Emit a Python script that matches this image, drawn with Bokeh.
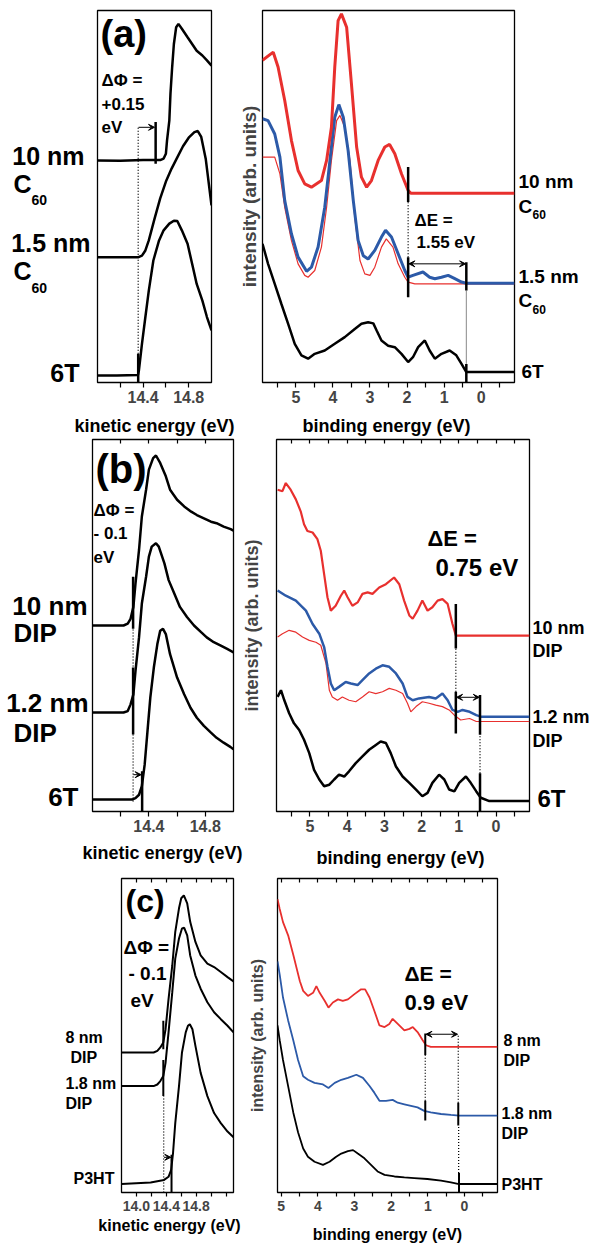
from bokeh.plotting import figure
from bokeh.models import Range1d, Label, Arrow, VeeHead, LinearAxis, FixedTicker, NumeralTickFormatter
from bokeh.layouts import row, column
from bokeh.embed import file_html
from bokeh.resources import INLINE

FONT = "Liberation Sans"
RED = "#e8302e"
BLUE = "#2c5aa8"

# ---------------- panel (a) : secondary electron cutoff (kinetic energy, eV) ----------------
a_ke_10 = [14.00, 14.20, 14.40, 14.55, 14.58, 14.60, 14.61, 14.63, 14.64, 14.655, 14.67, 14.69, 14.71, 14.74, 14.79, 14.83, 14.87, 14.92, 14.96, 15.00]
a_ki_10 = [59.7, 59.6, 59.8, 59.8, 60.2, 61.5, 65.1, 70.4, 77.6, 84.8, 91.0, 95.5, 96.4, 95.1, 92.8, 91.0, 89.2, 87.9, 86.6, 85.2]
a_ke_15 = [14.00, 14.17, 14.36, 14.39, 14.42, 14.45, 14.50, 14.55, 14.60, 14.65, 14.70, 14.75, 14.80, 14.85, 14.88, 14.91, 14.95, 15.00]
a_ki_15 = [33.7, 33.7, 33.7, 34.1, 35.5, 38.2, 44.0, 49.5, 54.0, 57.5, 60.5, 63.5, 65.8, 67.3, 67.6, 66.0, 60.0, 47.6]
a_ke_6t = [14.00, 14.17, 14.355, 14.363, 14.39, 14.42, 14.45, 14.49, 14.54, 14.58, 14.63, 14.67, 14.70, 14.74, 14.79, 14.83, 14.87, 14.92, 14.96, 15.00]
a_ki_6t = [1.9, 1.9, 2.0, 3.2, 10.4, 17.6, 24.7, 32.8, 38.2, 40.9, 42.7, 43.5, 43.4, 40.9, 37.3, 31.9, 26.5, 22.0, 17.6, 14.0]

# ---------------- panel (a) : valence band (binding energy, eV) ----------------
a_be_10 = [5.90, 5.61, 5.48, 5.30, 5.12, 4.94, 4.76, 4.58, 4.31, 4.17, 4.04, 3.95, 3.86, 3.77, 3.63, 3.50, 3.36, 3.23, 3.09, 2.96, 2.78, 2.60, 2.47, 2.33, 2.15, 1.97, 1.90, -0.90]
a_bi_10 = [86.6, 88.8, 84.8, 75.8, 65.1, 57.0, 53.4, 52.5, 54.3, 59.7, 68.6, 84.8, 97.3, 99.1, 95.5, 80.3, 63.3, 55.2, 52.5, 54.3, 59.7, 63.3, 64.0, 61.5, 56.1, 51.6, 50.9, 50.9]
a_be_15 = [5.90, 5.75, 5.57, 5.43, 5.30, 5.12, 4.94, 4.71, 4.58, 4.40, 4.22, 4.08, 3.95, 3.84, 3.72, 3.59, 3.45, 3.32, 3.18, 3.05, 2.87, 2.69, 2.58, 2.42, 2.24, 2.06, 1.97, 1.84, 1.57, 1.39, 1.25, 1.07, 0.89, 0.71, 0.53, 0.40, -0.90]
a_bi_15 = [70.9, 70.4, 66.8, 60.6, 48.9, 40.0, 33.7, 29.9, 31.0, 36.4, 47.1, 59.7, 71.3, 74.7, 71.3, 62.4, 48.9, 38.2, 34.1, 33.2, 35.5, 39.1, 40.9, 39.1, 34.6, 30.1, 28.3, 28.8, 29.7, 28.3, 27.9, 28.3, 28.8, 27.9, 27.0, 26.7, 26.7]
a_be_15r = [5.90, 5.57, 5.43, 5.30, 5.12, 4.94, 4.76, 4.67, 4.49, 4.31, 4.17, 4.04, 3.90, 3.81, 3.68, 3.54, 3.41, 3.27, 3.14, 3.00, 2.87, 2.69, 2.56, 2.38, 2.24, 2.06, 1.97, 1.79, -0.90]
a_bi_15r = [60.6, 60.6, 56.1, 47.1, 38.2, 31.9, 28.8, 28.3, 30.1, 36.4, 47.1, 59.7, 70.4, 71.8, 68.6, 59.7, 44.4, 32.8, 29.2, 28.8, 31.0, 36.4, 38.6, 36.4, 31.9, 28.3, 27.0, 26.5, 26.5]
a_be_6t = [5.90, 5.75, 5.57, 5.39, 5.21, 5.03, 4.85, 4.67, 4.49, 4.22, 3.95, 3.68, 3.41, 3.23, 3.05, 2.91, 2.82, 2.69, 2.51, 2.33, 2.15, 1.97, 1.84, 1.70, 1.52, 1.39, 1.25, 1.07, 0.85, 0.67, 0.53, 0.40, -0.90]
a_bi_6t = [37.3, 31.9, 26.5, 21.1, 15.8, 10.4, 7.3, 6.4, 7.7, 8.6, 10.4, 12.2, 14.4, 15.8, 16.2, 15.9, 14.0, 11.3, 9.9, 9.5, 7.7, 5.5, 6.8, 9.5, 11.3, 8.6, 6.4, 7.7, 8.6, 7.3, 5.0, 2.8, 2.8]

# ---------------- panel (b) : cutoff ----------------
b_ke_10 = [14.00, 14.22, 14.25, 14.27, 14.29, 14.305, 14.33, 14.35, 14.38, 14.40, 14.43, 14.45, 14.48, 14.52, 14.55, 14.60, 14.65, 14.70, 14.74, 14.79, 14.84, 14.88, 14.93, 14.98, 15.00]
b_ki_10 = [50.0, 50.0, 50.5, 51.8, 55.0, 61.3, 70.3, 79.3, 86.5, 91.9, 95.0, 95.7, 93.7, 90.1, 86.5, 83.8, 82.0, 80.6, 79.7, 78.8, 77.9, 77.5, 76.6, 75.9, 75.5]
b_ke_12 = [14.00, 14.22, 14.25, 14.27, 14.29, 14.305, 14.33, 14.35, 14.38, 14.40, 14.42, 14.45, 14.47, 14.51, 14.54, 14.58, 14.62, 14.67, 14.72, 14.77, 14.81, 14.86, 14.91, 14.955, 15.00]
b_ki_12 = [26.6, 26.6, 27.0, 28.8, 31.5, 37.8, 46.8, 55.9, 63.1, 68.5, 71.2, 72.1, 71.2, 66.7, 62.2, 58.6, 55.0, 52.3, 50.0, 48.2, 46.8, 45.5, 44.6, 43.7, 42.8]
b_ke_6t = [14.00, 14.28, 14.305, 14.33, 14.35, 14.37, 14.39, 14.41, 14.435, 14.46, 14.48, 14.50, 14.52, 14.55, 14.60, 14.65, 14.695, 14.74, 14.79, 14.84, 14.88, 14.93, 14.98, 15.00]
b_ki_6t = [3.2, 3.2, 3.6, 4.5, 6.8, 12.6, 21.6, 30.6, 38.7, 45.0, 48.6, 49.1, 47.7, 42.3, 36.0, 31.5, 27.9, 25.2, 23.0, 21.2, 19.8, 18.5, 17.3, 16.7]

# ---------------- panel (b) : valence band ----------------
b_be_10 = [5.87, 5.74, 5.65, 5.52, 5.38, 5.25, 5.16, 5.07, 4.93, 4.80, 4.71, 4.62, 4.53, 4.44, 4.31, 4.17, 4.08, 3.99, 3.86, 3.72, 3.59, 3.45, 3.32, 3.14, 2.96, 2.74, 2.60, 2.47, 2.33, 2.24, 2.11, 1.98, 1.84, 1.71, 1.57, 1.44, 1.30, 1.17, 1.08, -0.90]
b_bi_10 = [86.5, 86.1, 88.3, 86.5, 83.9, 80.7, 77.2, 75.4, 75.0, 73.2, 70.1, 63.8, 57.6, 54.0, 55.3, 58.0, 59.4, 57.6, 55.3, 56.2, 58.5, 58.9, 58.5, 60.2, 61.1, 62.9, 61.1, 56.7, 52.7, 51.8, 54.0, 56.7, 54.0, 54.9, 56.7, 57.1, 55.8, 50.4, 47.3, 47.3]
b_be_12 = [5.87, 5.65, 5.38, 5.11, 4.93, 4.75, 4.62, 4.53, 4.44, 4.35, 4.22, 4.04, 3.90, 3.72, 3.59, 3.41, 3.23, 3.05, 2.87, 2.69, 2.51, 2.38, 2.24, 2.07, 1.80, 1.62, 1.44, 1.30, 1.17, 1.03, 0.90, 0.71, 0.53, 0.41, -0.90]
b_bi_12 = [59.4, 58.0, 56.7, 54.0, 50.4, 47.8, 44.2, 38.9, 34.4, 32.6, 33.5, 34.8, 34.4, 34.0, 35.3, 37.1, 38.4, 39.3, 38.9, 37.1, 34.4, 30.8, 29.9, 30.4, 30.8, 30.4, 31.7, 29.9, 27.3, 26.8, 27.3, 26.8, 25.9, 25.5, 25.5]
b_be_12r = [5.87, 5.74, 5.56, 5.38, 5.20, 5.02, 4.84, 4.71, 4.57, 4.48, 4.40, 4.26, 4.13, 3.95, 3.77, 3.59, 3.41, 3.23, 3.05, 2.87, 2.69, 2.51, 2.38, 2.29, 2.15, 1.98, 1.80, 1.62, 1.44, 1.26, 1.12, 0.95, 0.71, 0.53, -0.90]
b_bi_12r = [46.9, 47.8, 48.7, 48.2, 46.9, 46.0, 45.5, 44.7, 39.8, 32.6, 30.8, 29.9, 30.8, 29.9, 29.5, 30.8, 32.2, 31.7, 32.2, 33.1, 32.6, 31.7, 29.1, 26.8, 28.2, 29.5, 29.1, 28.6, 28.2, 27.3, 25.9, 24.6, 25.0, 24.2, 24.2]
b_be_6t = [5.87, 5.78, 5.69, 5.56, 5.43, 5.29, 5.16, 5.02, 4.89, 4.75, 4.62, 4.48, 4.35, 4.22, 4.08, 3.95, 3.77, 3.59, 3.41, 3.23, 3.10, 2.96, 2.83, 2.69, 2.51, 2.33, 2.15, 1.98, 1.84, 1.71, 1.53, 1.39, 1.26, 1.12, 0.99, 0.81, 0.68, 0.53, 0.41, 0.18, -0.90]
b_bi_6t = [30.8, 32.6, 29.9, 26.4, 23.7, 21.9, 19.3, 15.7, 11.2, 8.6, 6.8, 7.2, 8.6, 9.9, 9.4, 10.8, 13.0, 14.8, 16.6, 17.9, 18.8, 18.4, 15.7, 12.1, 9.4, 7.7, 5.9, 4.1, 5.0, 7.7, 9.9, 8.6, 5.9, 5.4, 7.7, 9.4, 7.7, 5.4, 3.7, 2.8, 2.8]

# ---------------- panel (c) : cutoff ----------------
c_ke_8 = [13.80, 14.23, 14.28, 14.32, 14.36, 14.39, 14.43, 14.48, 14.52, 14.57, 14.60, 14.635, 14.68, 14.72, 14.79, 14.86, 14.95, 15.04, 15.13, 15.22, 15.30]
c_ki_8 = [44.6, 44.6, 45.1, 46.2, 47.8, 52.0, 61.6, 72.3, 83.0, 90.5, 93.7, 94.6, 92.1, 86.2, 79.8, 75.5, 72.9, 71.8, 70.2, 68.6, 67.2]
c_ke_18 = [13.80, 14.23, 14.28, 14.32, 14.36, 14.39, 14.43, 14.48, 14.52, 14.57, 14.61, 14.64, 14.68, 14.72, 14.79, 14.86, 14.95, 15.04, 15.13, 15.22, 15.30]
c_ki_18 = [33.9, 33.9, 34.4, 35.5, 37.1, 41.3, 51.0, 63.8, 74.5, 80.9, 84.1, 84.3, 81.9, 75.5, 69.1, 64.9, 60.6, 57.4, 55.2, 53.1, 51.0]
c_ke_p3 = [13.80, 14.19, 14.37, 14.43, 14.465, 14.49, 14.52, 14.57, 14.61, 14.66, 14.69, 14.715, 14.75, 14.79, 14.86, 14.95, 15.04, 15.13, 15.22, 15.30]
c_ki_p3 = [2.7, 3.2, 4.0, 5.0, 7.2, 12.5, 22.1, 33.9, 44.6, 51.0, 53.1, 53.6, 52.0, 46.7, 38.1, 30.7, 25.3, 22.1, 19.4, 17.6]

# ---------------- panel (c) : valence band ----------------
c_be_8 = [5.10, 5.04, 4.95, 4.81, 4.67, 4.58, 4.49, 4.40, 4.27, 4.13, 4.04, 3.95, 3.81, 3.71, 3.59, 3.45, 3.32, 3.18, 3.01, 2.82, 2.71, 2.59, 2.46, 2.32, 2.18, 2.05, 1.96, 1.82, 1.64, 1.50, 1.41, 1.28, 1.14, 1.05, 0.92, -0.90]
c_bi_8 = [93.4, 90.3, 86.1, 81.9, 75.7, 71.5, 67.3, 64.2, 62.6, 63.6, 65.7, 63.6, 61.0, 58.9, 60.5, 61.5, 61.0, 61.5, 63.1, 64.7, 64.7, 62.1, 57.9, 53.2, 52.7, 53.7, 55.3, 53.7, 51.6, 52.1, 52.7, 51.1, 48.5, 46.9, 46.4, 46.4]
c_be_18 = [5.10, 5.04, 4.95, 4.81, 4.67, 4.54, 4.40, 4.27, 4.09, 3.86, 3.71, 3.54, 3.36, 3.18, 2.95, 2.77, 2.59, 2.46, 2.32, 2.14, 1.96, 1.82, 1.64, 1.46, 1.28, 1.10, 0.92, 0.64, 0.37, 0.15, -0.90]
c_bi_18 = [73.6, 69.4, 62.1, 54.8, 48.5, 42.2, 37.0, 35.9, 34.9, 34.4, 33.3, 34.9, 35.9, 36.5, 37.5, 36.5, 33.9, 31.8, 29.2, 29.2, 29.5, 28.6, 28.1, 27.6, 27.1, 26.0, 25.5, 25.0, 24.7, 24.5, 24.5]
c_be_p3 = [5.10, 5.04, 4.95, 4.81, 4.67, 4.54, 4.40, 4.27, 4.09, 3.86, 3.68, 3.50, 3.36, 3.18, 3.04, 2.91, 2.73, 2.55, 2.37, 2.18, 1.91, 1.64, 1.37, 1.01, 0.64, 0.37, 0.15, -0.90]
c_bi_p3 = [53.2, 48.5, 42.2, 33.9, 25.5, 19.2, 14.0, 11.4, 9.8, 8.8, 9.8, 11.4, 12.4, 13.2, 13.5, 12.4, 10.9, 8.8, 6.7, 5.6, 5.1, 4.8, 4.6, 4.3, 3.8, 3.2, 2.7, 2.7]

# ---------------- cutoff / onset markers (energy, from, to) ----------------
a_l_bars = dict(x=[14.51, 14.357], y0=[58.8, 0.0], y1=[70.0, 7.7])
a_l_dots = dict(x=[14.357], y0=[7.7], y1=[68.6])
a_r_bars = dict(x=[1.97, 1.97, 0.40, 0.40], y0=[48.5, 22.9, 24.7, 0.0], y1=[57.9, 33.7, 32.3, 5.0])
a_r_dots = dict(x=[1.97], y0=[33.7], y1=[48.5])
b_l_bars = dict(x=[14.288, 14.288, 14.352], y0=[49.1, 20.7, 0.0], y1=[63.1, 38.7, 10.8])
b_l_dots = dict(x=[14.288], y0=[2.7], y1=[49.1])
b_r_bars = dict(x=[1.08, 1.08, 0.43, 0.43], y0=[43.8, 21.0, 20.6, 0.0], y1=[55.8, 32.2, 31.3, 10.3])
b_r_dots = dict(x=[1.08, 0.43], y0=[32.2, 10.3], y1=[43.8, 20.6])
c_l_bars = dict(x=[14.36, 14.36, 14.47], y0=[45.6, 30.7, 0.0], y1=[54.7, 42.2, 12.0])
c_l_dots = dict(x=[14.365], y0=[0.0], y1=[30.7])
c_r_bars = dict(x=[1.07, 1.07, 0.17, 0.15], y0=[43.8, 22.9, 21.3, 0.0], y1=[50.6, 29.2, 28.6, 6.2])
c_r_dots = dict(x=[1.07, 0.17, 0.16], y0=[29.2, 28.6, 6.2], y1=[43.8, 50.4, 21.3])

KE_TICKS = [14.4, 14.8]
KE_MINOR = [14.2, 14.6]
KE_TICKS_C = [14.0, 14.4, 14.8]
KE_MINOR_C = [14.2, 14.6, 15.0, 15.2]
BE_TICKS = [5, 4, 3, 2, 1, 0]
BE_MINOR = [5.5, 4.5, 3.5, 2.5, 1.5, 0.5, -0.5]


def make_panel(ml, fw, mr, mt, fh, mb, xr, ticks, minor, fmt, tick_fs, standoff=3,
               ylabel=None, ylab_fs=None, ylab_off=3, top_ticks=False, tick_len=5):
    p = figure(frame_width=fw, frame_height=fh, min_border_left=ml, min_border_right=mr,
               min_border_top=mt, min_border_bottom=mb, x_range=Range1d(*xr), y_range=Range1d(0, 100),
               y_axis_type=None, output_backend="svg", toolbar_location=None)
    p.grid.visible = False
    p.outline_line_color = "black"
    p.outline_line_width = 1.3
    p.background_fill_color = "white"
    p.border_fill_color = "white"
    ax = p.below[0]
    ax.ticker = FixedTicker(ticks=ticks, minor_ticks=minor)
    ax.formatter = NumeralTickFormatter(format=fmt)
    ax.axis_line_color = None
    ax.major_tick_in = 0
    ax.major_tick_out = tick_len
    ax.minor_tick_in = 0
    ax.minor_tick_out = tick_len
    ax.major_tick_line_width = 1.2
    ax.minor_tick_line_width = 1.2
    ax.major_label_standoff = standoff
    ax.major_label_text_font = FONT
    ax.major_label_text_font_style = "bold"
    ax.major_label_text_font_size = f"{tick_fs}px"
    if top_ticks:
        # inward mirror ticks on the top edge, without labels
        top = LinearAxis(ticker=FixedTicker(ticks=[], minor_ticks=sorted(ticks + minor)), axis_line_color=None,
                         major_tick_in=0, major_tick_out=0, minor_tick_in=4, minor_tick_out=0,
                         minor_tick_line_width=1.2, major_label_standoff=0)
        p.add_layout(top, "above")
    if ylabel:
        ya = LinearAxis(ticker=FixedTicker(ticks=[]), axis_line_color=None, major_tick_out=0,
                        major_tick_in=0, minor_tick_out=0, minor_tick_in=0, major_label_standoff=0,
                        axis_label=ylabel, axis_label_standoff=ylab_off, axis_label_text_font=FONT,
                        axis_label_text_font_style="bold", axis_label_text_font_size=f"{ylab_fs}px")
        p.add_layout(ya, "left")
    return p


def label(p, x, y, txt, size, align="left"):
    p.add_layout(Label(x=x, y=y, text=txt, text_font=FONT, text_font_style="bold",
                       text_font_size=f"{size}px", text_align=align, text_baseline="middle",
                       text_color="black"))


def px2data(fr, px, py):
    l, t, r, b, x0, x1 = fr
    return x0 + (px - l) / (r - l) * (x1 - x0), (b - py) / (b - t) * 100.0


def texts(p, fr, items):
    for it in items:
        txt, px, py, size = it[:4]
        align = it[4] if len(it) > 4 else "left"
        x, y = px2data(fr, px, py)
        label(p, x, y, txt, size, align)


def text_fig(x0, w, ftop, fbot, bt, bb, items):
    # blank strip of the page (page-pixel coordinates) that carries the texts lying beside the frames;
    # its frame spans page rows ftop..fbot, its borders bt/bb match those of the panels in its row
    p = figure(width=w, height=bt + (fbot - ftop) + bb, x_range=Range1d(x0, x0 + w), y_range=Range1d(fbot, ftop),
               x_axis_type=None, y_axis_type=None, output_backend="svg", toolbar_location=None,
               min_border_left=0, min_border_right=0, min_border_top=bt, min_border_bottom=bb)
    p.outline_line_color = None
    p.background_fill_color = "white"
    p.border_fill_color = "white"
    for it in items:
        txt, px, py, size = it[:4]
        align = it[4] if len(it) > 4 else "left"
        label(p, px, py, txt, size, align)
    return p


def markers(p, bars, dots, bw=2.5):
    p.segment(x0=bars["x"], y0=bars["y0"], x1=bars["x"], y1=bars["y1"], line_color="black", line_width=bw)
    p.segment(x0=dots["x"], y0=dots["y0"], x1=dots["x"], y1=dots["y1"], line_color="black",
              line_width=1.3, line_dash="1 2")


def arrow(p, x0, x1, y, both=False):
    p.add_layout(Arrow(end=VeeHead(size=6, line_color="black", fill_color="black", line_width=1),
                       start=VeeHead(size=6, line_color="black", fill_color="black", line_width=1) if both else None,
                       x_start=x0, y_start=y, x_end=x1, y_end=y, line_color="black", line_width=1))


# frames in page pixels: left, top, right, bottom, x at left, x at right
FA_L = (97, 10, 211, 382, 14.0, 15.0)
FA_R = (261, 10, 513, 382, 5.9, -0.9)
FB_L = (92, 439, 233, 811, 14.0, 15.0)
FB_R = (274, 439, 527, 811, 5.9, -0.9)
FC_L = (121, 878, 233, 1192, 13.8, 15.3)
FC_R = (276, 878, 496, 1192, 5.1, -0.9)

# ================= row (a) : borders top 10, frame 372, bottom 28 =================
pa_l = make_panel(4, 114, 24, 10, 372, 28, (14.0, 15.0), KE_TICKS, KE_MINOR, "0.0", 16)
for xs, ys in [(a_ke_10, a_ki_10), (a_ke_15, a_ki_15), (a_ke_6t, a_ki_6t)]:
    pa_l.line(xs, ys, line_color="black", line_width=2.5)
markers(pa_l, a_l_bars, a_l_dots)
arrow(pa_l, 14.36, 14.50, 68.6)
texts(pa_l, FA_L, [("(a)", 100, 33, 38), ("ΔΦ =", 101, 80, 17), ("+0.15", 101, 103, 17), ("eV", 101, 127, 17)])

pa_r = make_panel(26, 252, 2, 10, 372, 28, (5.9, -0.9), BE_TICKS, BE_MINOR, "0", 16,
                  ylabel="intensity (arb. units)", ylab_fs=19, ylab_off=3)
pa_r.line(a_be_15r, a_bi_15r, line_color=RED, line_width=1.2)
pa_r.line(a_be_15, a_bi_15, line_color=BLUE, line_width=3)
pa_r.line(a_be_10, a_bi_10, line_color=RED, line_width=3)
pa_r.line(a_be_6t, a_bi_6t, line_color="black", line_width=2.5)
pa_r.segment(x0=[0.40], y0=[5.0], x1=[0.40], y1=[24.7], line_color="#888888", line_width=1)
markers(pa_r, a_r_bars, a_r_dots)
arrow(pa_r, 1.95, 0.42, 31.9, both=True)
texts(pa_r, FA_R, [("ΔE =", 413, 220, 17), ("1.55 eV", 415, 242, 17)])

la_l = text_fig(0, 93, 10, 382, 10, 28,
                [("10 nm", 84, 155, 25, "right"), ("C", 13, 183, 25), ("60", 31, 199, 14),
                 ("1.5 nm", 90, 242, 25, "right"), ("C", 13, 270, 25), ("60", 31, 287, 14),
                 ("6T", 79, 372, 25, "right")])
la_r = text_fig(515, 74, 10, 382, 10, 28,
                [("10 nm", 517, 181, 19), ("C", 517, 206, 19), ("60", 531, 214, 12),
                 ("1.5 nm", 517, 276, 19), ("C", 517, 300, 19), ("60", 531, 309, 12),
                 ("6T", 520, 371, 19)])
sa = text_fig(0, 589, 410, 436, 0, 0, [("kinetic energy (eV)", 154, 425, 18, "center"),
                                        ("binding energy (eV)", 386, 425, 18, "center")])

# ================= row (b) : borders top 3, frame 372, bottom 29 =================
pb_l = make_panel(2, 141, 5, 3, 372, 29, (14.0, 15.0), KE_TICKS, KE_MINOR, "0.0", 16, top_ticks=True)
for xs, ys in [(b_ke_10, b_ki_10), (b_ke_12, b_ki_12), (b_ke_6t, b_ki_6t)]:
    pb_l.line(xs, ys, line_color="black", line_width=2.5)
markers(pb_l, b_l_bars, b_l_dots)
arrow(pb_l, 14.29, 14.345, 9.9)
texts(pb_l, FB_L, [("(b)", 95, 468, 40), ("ΔΦ =", 93, 510, 17), ("- 0.1", 93, 533, 17), ("eV", 93, 557, 17)])

pb_r = make_panel(36, 253, 2, 3, 372, 29, (5.9, -0.9), BE_TICKS, BE_MINOR, "0", 16,
                  ylabel="intensity (arb. units)", ylab_fs=18, ylab_off=15, top_ticks=True)
pb_r.line(b_be_12r, b_bi_12r, line_color=RED, line_width=1.2)
pb_r.line(b_be_12, b_bi_12, line_color=BLUE, line_width=2.5)
pb_r.line(b_be_10, b_bi_10, line_color=RED, line_width=2.2)
pb_r.line(b_be_6t, b_bi_6t, line_color="black", line_width=2.5)
markers(pb_r, b_r_bars, b_r_dots)
arrow(pb_r, 1.06, 0.45, 30.7, both=True)
texts(pb_r, FB_R, [("ΔE =", 425, 538, 22), ("0.75 eV", 433, 567, 24)])

lb_l = text_fig(0, 90, 439, 811, 3, 29,
                [("10 nm", 87, 605, 26, "right"), ("DIP", 13, 632, 26),
                 ("1.2 nm", 88, 702, 26, "right"), ("DIP", 13, 732, 26),
                 ("6T", 78, 796, 26, "right")])
lb_r = text_fig(529, 60, 439, 811, 3, 29,
                [("10 nm", 530, 627, 18), ("DIP", 530, 650, 18),
                 ("1.2 nm", 530, 716, 18), ("DIP", 530, 740, 18), ("6T", 535, 798, 24)])
sb = text_fig(0, 589, 840, 868, 0, 0, [("kinetic energy (eV)", 162, 852, 18, "center"),
                                        ("binding energy (eV)", 400, 857, 18, "center")])

# ================= row (c) : borders top 10, frame 314, bottom 26 =================
pc_l = make_panel(4, 112, 12, 10, 314, 26, (13.8, 15.3), KE_TICKS_C, KE_MINOR_C, "0.0", 14, standoff=4,
                  top_ticks=True, tick_len=4)
for xs, ys in [(c_ke_8, c_ki_8), (c_ke_18, c_ki_18), (c_ke_p3, c_ki_p3)]:
    pc_l.line(xs, ys, line_color="black", line_width=2)
markers(pc_l, c_l_bars, c_l_dots, bw=2)
arrow(pc_l, 14.37, 14.46, 11.2)
texts(pc_l, FC_L, [("(c)", 125, 900, 32), ("ΔΦ =", 123, 947, 19), ("- 0.1", 128, 973, 19), ("eV", 130, 1000, 19)])

pc_r = make_panel(31, 220, 2, 10, 314, 26, (5.1, -0.9), BE_TICKS, BE_MINOR, "0", 14, standoff=4,
                  ylabel="intensity (arb. units)", ylab_fs=16, ylab_off=12, top_ticks=True, tick_len=4)
pc_r.line(c_be_8, c_bi_8, line_color=RED, line_width=1.8)
pc_r.line(c_be_18, c_bi_18, line_color=BLUE, line_width=1.8)
pc_r.line(c_be_p3, c_bi_p3, line_color="black", line_width=1.8)
markers(pc_r, c_r_bars, c_r_dots, bw=2)
arrow(pc_r, 1.05, 0.19, 50.4, both=True)
texts(pc_r, FC_R, [("ΔE =", 403, 973, 21), ("0.9 eV", 403, 1002, 22)])

lc_l = text_fig(0, 117, 878, 1192, 10, 26,
                [("8 nm", 65, 1037, 16), ("DIP", 70, 1057, 16),
                 ("1.8 nm", 65, 1083, 16), ("DIP", 65, 1103, 16), ("P3HT", 73, 1178, 16)])
lc_r = text_fig(498, 91, 878, 1192, 10, 26,
                [("8 nm", 502, 1040, 16), ("DIP", 502, 1060, 16),
                 ("1.8 nm", 500, 1113, 16), ("DIP", 500, 1133, 16), ("P3HT", 500, 1184, 16)])
sc = text_fig(0, 589, 1218, 1244, 0, 0, [("kinetic energy (eV)", 169, 1225, 16, "center"),
                                          ("binding energy (eV)", 387, 1234, 16, "center")])

layout = column(row(la_l, pa_l, pa_r, la_r, spacing=0), sa,
                row(lb_l, pb_l, pb_r, lb_r, spacing=0), sb,
                row(lc_l, pc_l, pc_r, lc_r, spacing=0), sc, spacing=0)
open("out.html", "w").write(file_html(layout, INLINE))
